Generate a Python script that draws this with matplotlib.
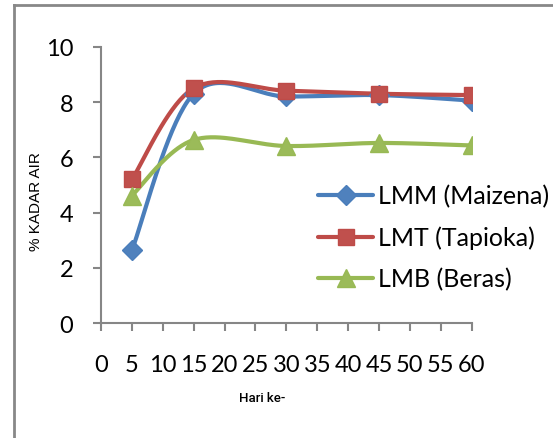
import matplotlib.pyplot as plt
import numpy as np
from matplotlib.lines import Line2D

# moisture content (% kadar air) per storage day
hari = [5, 15, 30, 45, 60]
lmm = [2.64, 8.3, 8.2, 8.25, 8.05]
lmt = [5.2, 8.5, 8.41, 8.3, 8.25]
lmb = [4.62, 6.63, 6.41, 6.52, 6.43]

labels = ["LMM (Maizena)", "LMT (Tapioka)", "LMB (Beras)"]
line_colors = ["#4A7EBB", "#BE4B48", "#98B954"]
fill_colors = ["#4F81BD", "#C0504D", "#9BBB59"]
markers = ["D", "s", "^"]
msizes = [10.5, 12, 13]

plt.rcParams['font.family'] = ['Lato', 'DejaVu Sans']


def smooth(x, y, n=40):
    # cubic bezier segments with 1/6 tangents (office style smoothed line)
    p = np.column_stack([x, y]).astype(float)
    pts = np.vstack([p[0], p, p[-1]])
    t = np.linspace(0, 1, n)[:, None]
    out = []
    for i in range(1, len(pts) - 2):
        p0, p3 = pts[i], pts[i + 1]
        c1 = p0 + (pts[i + 1] - pts[i - 1]) / 6
        c2 = p3 - (pts[i + 2] - pts[i]) / 6
        seg = ((1 - t)**3 * p0 + 3 * (1 - t)**2 * t * c1
               + 3 * (1 - t) * t**2 * c2 + t**3 * p3)
        out.append(seg)
    out = np.vstack(out)
    return out[:, 0], out[:, 1]


W, H = 553, 439
fig = plt.figure(figsize=(W / 100, H / 100), dpi=100)
ax = fig.add_axes([101 / W, 1 - 324.3 / H, 370.7 / W, 276.6 / H])

handles = []
for ys, lab, lc, fc, mk, ms in zip([lmm, lmt, lmb], labels, line_colors,
                                    fill_colors, markers, msizes):
    sx, sy = smooth(hari, ys)
    ax.plot(sx, sy, color=lc, lw=3, solid_capstyle='round', zorder=3)
    ax.plot(hari, ys, ls='none', marker=mk, ms=ms, mfc=fc, mec=lc,
            mew=1, zorder=4)
    handles.append(Line2D([], [], color=lc, lw=3, marker=mk, ms=ms,
                          mfc=fc, mec=lc, solid_capstyle='round'))

ax.set_xlim(0, 60)
ax.set_ylim(0, 10)
ax.set_xticks(range(0, 61, 5))
ax.set_yticks(range(0, 11, 2))

for s in ['top', 'right']:
    ax.spines[s].set_visible(False)
for s in ['left', 'bottom']:
    ax.spines[s].set_color('#868686')
    ax.spines[s].set_linewidth(1.5)
ax.tick_params(axis='both', direction='out', length=6, width=1.5,
               color='#868686', labelsize=17, labelcolor='black')
ax.tick_params(axis='x', pad=16)
ax.tick_params(axis='y', pad=14)

fig.text(36 / W, 1 - 202 / H, "% KADAR AIR", rotation=90,
         ha='center', va='center', fontsize=11,
         family=['Liberation Sans', 'DejaVu Sans'])
fig.text(262 / W, 1 - 399 / H, "Hari ke-", ha='center', va='center',
         fontsize=9.5, fontweight='medium', family=['Roboto', 'DejaVu Sans'])

ax.legend(handles, labels, loc='upper left',
          bbox_to_anchor=(318 / W, 1 - 185.5 / H),
          bbox_transform=fig.transFigure, frameon=False, fontsize=18,
          handlelength=2.2, handletextpad=0.2, labelspacing=0.72,
          borderaxespad=0, borderpad=0)

# outer chart frame
fig.add_artist(Line2D([13.5 / W, 13.5 / W], [0, 1 - 5.8 / H],
                      transform=fig.transFigure, color='#888888', lw=2))
fig.add_artist(Line2D([13.5 / W, 1], [1 - 5.8 / H, 1 - 5.8 / H],
                      transform=fig.transFigure, color='#888888', lw=2))

fig.savefig("out.png", dpi=100)
